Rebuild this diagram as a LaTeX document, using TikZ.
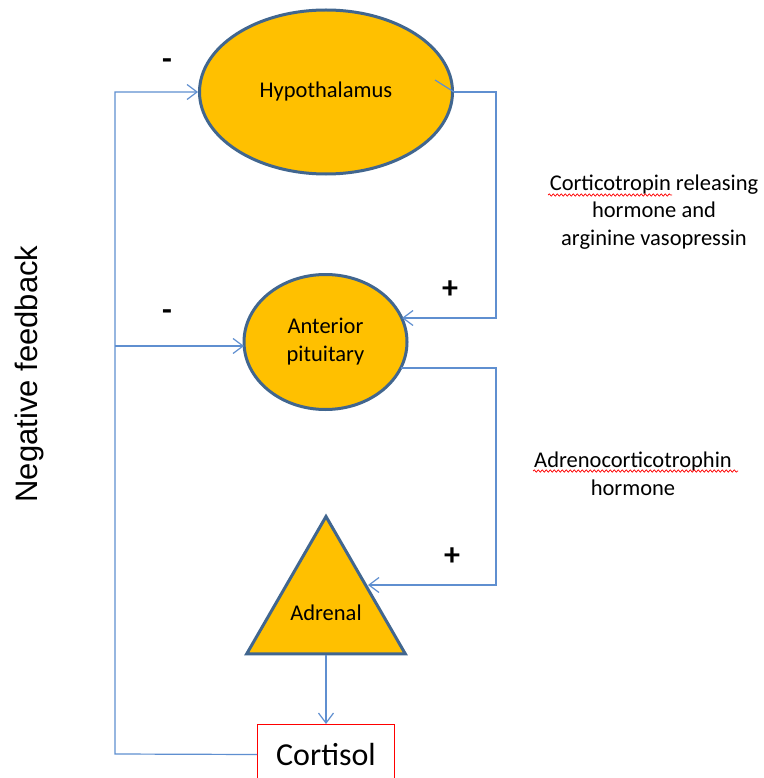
\documentclass[tikz,border=0pt]{standalone}
\usepackage{fontspec}
\setmainfont{Carlito}
\newfontfamily\arialf{Liberation Sans}
\usetikzlibrary{shapes.geometric,arrows.meta,decorations.pathmorphing,calc}
\definecolor{gold}{HTML}{FFC000}
\definecolor{rim}{HTML}{41668F}
\definecolor{wirec}{HTML}{5F8FD0}
\begin{document}
\begin{tikzpicture}[x=1pt,y=-1pt,
  organ/.style={draw=rim, line width=3pt, fill=gold, inner sep=0pt,
    font=\fontsize{22.5}{27.5}\selectfont, align=center},
  wire/.style={draw=wirec, line width=1.2pt},
  arr/.style={wire, -{Straight Barb[length=10pt,width=15pt]}},
  sign/.style={font=\fontsize{32}{36}\selectfont\bfseries},
  lbl/.style={font=\fontsize{22.5}{27.5}\selectfont, align=center},
  spell/.style={draw=red, line width=0.7pt, decorate,
    decoration={snake,amplitude=1.2pt,segment length=4pt}}]
\clip (0,0) rectangle (763,778);
\fill[white] (0,0) rectangle (763,778);

% organs
\node[organ, ellipse, minimum width=253pt, minimum height=164pt] (hyp) at (326,92)
  {\raisebox{-2pt}{Hypothalamus}};
\node[organ, ellipse, minimum width=163pt, minimum height=135pt] (pit) at (325.5,342)
  {\raisebox{-5pt}{\begin{tabular}{@{}c@{}}Anterior\\pituitary\end{tabular}}};
\node[organ, regular polygon, regular polygon sides=3, minimum size=183pt,
  label={[lbl, yshift=-5pt]center:Adrenal}] (adr) at (326,608) {};
\node[draw=red, line width=1pt, minimum width=137pt, minimum height=60pt, anchor=north,
  font=\fontsize{32}{36}\selectfont] (cort) at (326,724) {Cortisol};

% border points
\coordinate (pitin) at (402,318);
\coordinate (pitout) at (401,368);
\coordinate (pitw) at (244,346);
\coordinate (adrin) at (368,585);
\coordinate (fbl) at (115,754);
\coordinate (fbm) at (115,346);

% connectors
\draw[arr] (hyp.east) -| (496,318) -- (pitin);
\draw[wire] (hyp.east) -- ++(-19,-12);
\draw[arr] (pitout) -| (496,585) -- (adrin);
\draw[arr] (adr.south) -- (cort.north);
\draw[arr] (cort.west) -- (fbl) |- (hyp.west);
\draw[arr] (fbm) -- (pitw);

% signs
\node[sign] (m1) at (167,64) {-};
\node[sign] (m2) at (167,315) {-};
\node[sign] (p1) at (450,290) {+};
\node[sign] (p2) at (452,557) {+};

% labels
\node[lbl] (crh) at (654,212) {Corticotropin releasing\\hormone and\\arginine vasopressin};
\node[lbl] (acth) at (633,474) {Adrenocorticotrophin\\hormone};
\draw[spell] (548,195) -- (672,195);
\draw[spell] (533,471) -- (738,471);

\node[rotate=90, font=\arialf\fontsize{31}{36}\selectfont] (nf) at (29,374) {Negative feedback};
\end{tikzpicture}
\end{document}
